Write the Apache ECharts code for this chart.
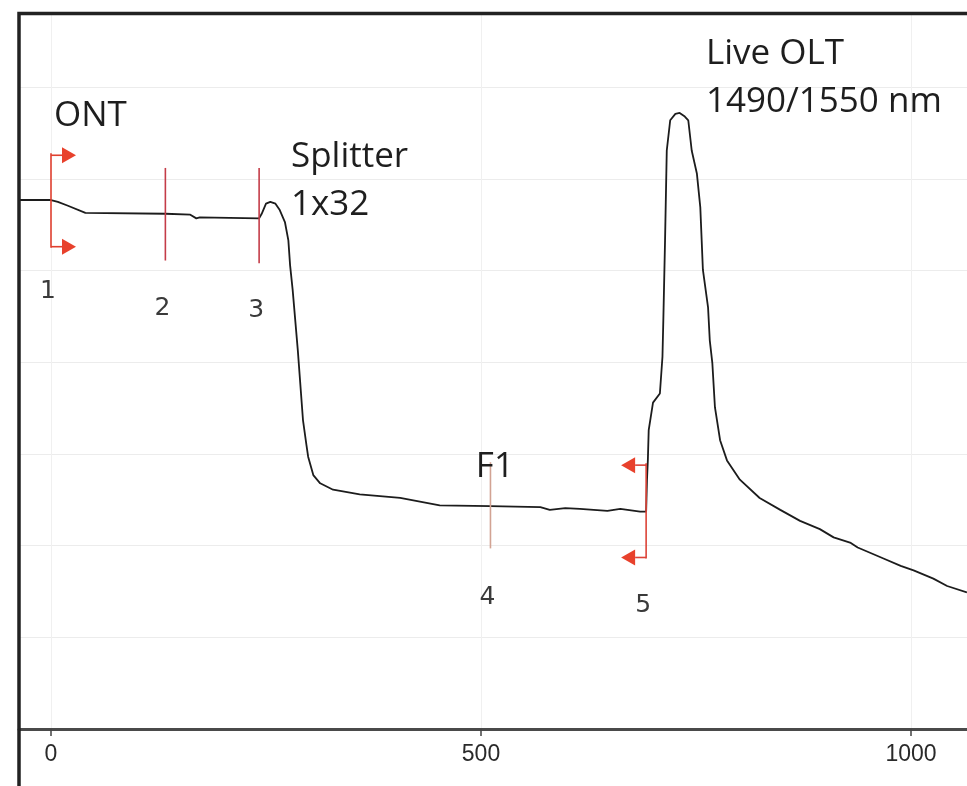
<!DOCTYPE html>
<html>
<head>
<meta charset="utf-8">
<script src="https://cdn.jsdelivr.net/npm/echarts@6/dist/echarts.min.js"></script>
<style>
  html, body { margin: 0; padding: 0; background: #fff; }
  #chart { width: 967px; height: 786px; }
</style>
</head>
<body>
<div id="chart"></div>
<script>
// OTDR trace: distance (m) vs level (grid units)
const traceDist = [-37, 0, 8, 19, 40, 133, 162, 169, 173, 242, 245, 250, 255, 261, 266, 272, 276, 278, 281,
  287, 293, 297, 299, 305, 313, 328, 359, 406, 452, 511, 569, 580, 598, 615, 647, 662, 685, 692,
  693, 694, 695, 700, 708, 711, 712, 714, 716, 720, 726, 731, 737, 741, 745, 751, 755, 758, 764,
  766, 769, 772, 778, 786, 801, 824, 848, 871, 894, 910, 930, 938, 968, 988, 1003, 1026, 1042, 1065]
const traceLevel = [5.77, 5.77, 5.75, 5.71, 5.63, 5.62, 5.61, 5.57, 5.58, 5.57, 5.62, 5.73, 5.75, 5.73, 5.66, 5.53, 5.33, 5.06, 4.79,
  4.13, 3.37, 3.10, 2.97, 2.77, 2.68, 2.61, 2.56, 2.52, 2.44, 2.43, 2.42, 2.39, 2.41, 2.40, 2.38, 2.40, 2.37, 2.37,
  2.72, 2.93, 3.26, 3.56, 3.66, 4.06, 4.46, 5.33, 6.31, 6.64, 6.71, 6.72, 6.68, 6.64, 6.31, 6.06, 5.69, 5.01, 4.60,
  4.24, 3.99, 3.51, 3.15, 2.93, 2.72, 2.52, 2.39, 2.27, 2.18, 2.09, 2.03, 1.98, 1.86, 1.78, 1.73, 1.64, 1.56, 1.49]

const xTicks = [0, 500, 1000]

// event markers
const markerName = ['1', '2', '3', '4', '5']
const markerDist = [0, 133, 242, 511, 692]
const markerTop = [6.28, 6.12, 6.12, 2.91, 2.90]
const markerBottom = [5.25, 5.11, 5.08, 1.97, 1.86]
const markerArrow = ['right', '', '', '', 'left']

// annotations
const annoText = ['ONT', 'Splitter', '1x32', 'F1', 'Live OLT', '1490/1550 nm']
const annoDist = [3.5, 279, 279, 494, 761.5, 761.5]
const annoLevel = [6.69, 6.24, 5.71, 2.86, 7.36, 6.84]

// layout / style
const markerColor = ['#e0402f', '#c43c48', '#c43c48', '#d2a393', '#dc4338']
const markerLabelLevel = [4.77, 4.59, 4.57, 1.43, 1.35]
const arrowColor = '#e8412c'

const chart = echarts.init(document.getElementById('chart'))

const option = {
  animation: false,
  backgroundColor: '#fff',
  grid: { left: 19, right: 0, top: 13, bottom: 57, containLabel: false },
  graphic: [{
    type: 'rect',
    shape: { x: 19, y: 13.5, width: 1200, height: 900 },
    style: { fill: 'none', stroke: '#222', lineWidth: 3.5 },
    z: 100
  }],
  xAxis: {
    type: 'value',
    min: -37.2,
    max: 1065.1,
    axisLine: { lineStyle: { color: '#4a4a4a', width: 3 } },
    axisTick: { show: true, customValues: xTicks, length: 7, lineStyle: { color: '#444', width: 1.5 } },
    axisLabel: {
      customValues: xTicks,
      formatter: function (v) { return String(v) },
      color: '#2a2a2a',
      fontFamily: 'Liberation Sans',
      fontSize: 23,
      margin: 14
    },
    splitLine: { show: true, lineStyle: { color: '#f0f0f0', width: 1 } }
  },
  yAxis: {
    type: 'value',
    min: 0,
    max: 7.81,
    interval: 1,
    axisLine: { show: false },
    axisTick: { show: false },
    axisLabel: { show: false },
    splitLine: { show: true, lineStyle: { color: '#ececec', width: 1 } }
  },
  series: [
    {
      type: 'line',
      data: traceDist.map((d, i) => [d, traceLevel[i]]),
      showSymbol: false,
      lineStyle: { color: '#1c1c1c', width: 1.8 },
      z: 3
    },
    {
      type: 'custom',
      clip: false,
      z: 4,
      data: markerDist.map((d, i) => [d, markerTop[i]]),
      renderItem: function (params, api) {
        const i = params.dataIndex
        const top = api.coord([markerDist[i], markerTop[i]])
        const bot = api.coord([markerDist[i], markerBottom[i]])
        const lab = api.coord([markerDist[i], markerLabelLevel[i]])
        const children = [
          {
            type: 'line',
            shape: { x1: top[0], y1: top[1], x2: bot[0], y2: bot[1] },
            style: { stroke: markerColor[i], lineWidth: 1.6 }
          },
          {
            type: 'text',
            x: lab[0] - 3,
            y: lab[1],
            style: {
              text: markerName[i],
              fill: '#3a3a3a',
              font: '25px "DejaVu Sans"',
              align: 'center',
              verticalAlign: 'middle'
            }
          }
        ]
        const side = markerArrow[i]
        if (side) {
          const dir = side === 'right' ? 1 : -1
          ;[top[1] + 2, bot[1] - 1].forEach(function (y) {
            const x0 = top[0]
            const x1 = x0 + dir * 11
            children.push({
              type: 'line',
              shape: { x1: x0, y1: y, x2: x1, y2: y },
              style: { stroke: markerColor[i], lineWidth: 1.6 }
            })
            children.push({
              type: 'polygon',
              shape: { points: [[x1, y - 8], [x1, y + 8], [x1 + dir * 14, y]] },
              style: { fill: arrowColor }
            })
          })
        }
        return { type: 'group', children: children }
      }
    },
    {
      type: 'custom',
      clip: false,
      z: 5,
      data: annoDist.map((d, i) => [d, annoLevel[i]]),
      renderItem: function (params, api) {
        const i = params.dataIndex
        const p = api.coord([annoDist[i], annoLevel[i]])
        return {
          type: 'text',
          x: p[0],
          y: p[1],
          style: {
            text: annoText[i],
            fill: '#1e1e1e',
            font: '35px "Open Sans"',
            align: 'left',
            verticalAlign: 'middle'
          }
        }
      }
    }
  ]
}

chart.setOption(option)
</script>
</body>
</html>
